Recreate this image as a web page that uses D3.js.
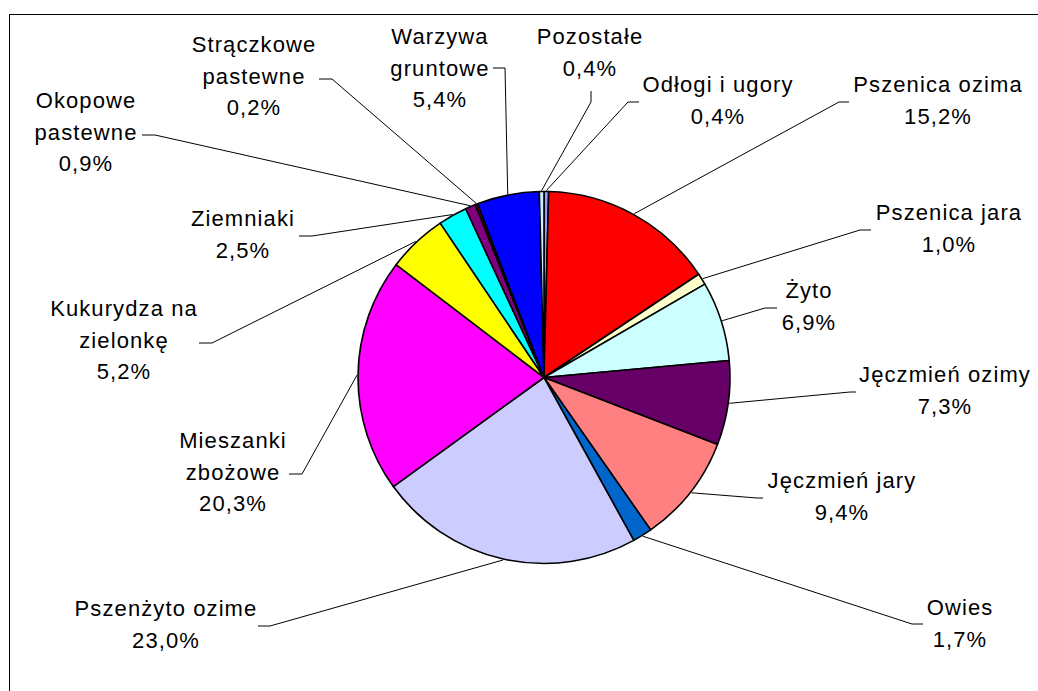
<!DOCTYPE html>
<html>
<head>
<meta charset="utf-8">
<script src="https://cdn.jsdelivr.net/npm/d3@7"></script>
<style>
  body { margin: 0; background: #fff; }
  svg text { font-family: "Liberation Sans", Arial, sans-serif; font-size: 22px; letter-spacing: 1.1px; fill: #000; }
</style>
</head>
<body>
<svg id="drawing_region" width="1038" height="691"></svg>
<script>
// data, clockwise from 12 o'clock
const categories = [
    "Odłogi i ugory", "Pszenica ozima", "Pszenica jara", "Żyto", "Jęczmień ozimy",
    "Jęczmień jary", "Owies", "Pszenżyto ozime", "Mieszanki\nzbożowe", "Kukurydza na\nzielonkę",
    "Ziemniaki", "Okopowe\npastewne", "Strączkowe\npastewne", "Warzywa\ngruntowe", "Pozostałe"
];
const values = [0.4, 15.2, 1.0, 6.9, 7.3, 9.4, 1.7, 23.0, 20.3, 5.2, 2.5, 0.9, 0.2, 5.4, 0.4];
const colors = [
    "#9999ff", "#ff0000", "#ffffcc", "#ccffff", "#660066",
    "#ff8080", "#0066cc", "#ccccff", "#ff00ff", "#ffff00",
    "#00ffff", "#800080", "#800000", "#0000ff", "#cceeff"
];

// label layout: text centre x, first baseline y, leader start and elbow
const labelPos = [
    { x: 718, y: 92,  a: [639, 102], e: [628, 102] },
    { x: 938, y: 92,  a: [849, 102], e: [839, 102] },
    { x: 949, y: 220, a: [871, 230], e: [860, 230] },
    { x: 809, y: 298, a: [777, 308], e: [765, 308] },
    { x: 945, y: 382, a: [856, 392], e: [850, 392] },
    { x: 842, y: 488, a: [763, 498], e: [757, 498] },
    { x: 960, y: 615, a: [923, 624], e: [912, 624] },
    { x: 166, y: 616, a: [258, 626], e: [270, 626] },
    { x: 233, y: 448, a: [289, 474], e: [302, 474] },
    { x: 124, y: 316, a: [199, 343], e: [212, 343] },
    { x: 243, y: 226, a: [299, 236], e: [312, 236] },
    { x: 86,  y: 108, a: [142, 135], e: [155, 135] },
    { x: 254, y: 52,  a: [319, 79],  e: [332, 79] },
    { x: 440, y: 44,  a: [493, 68],  e: [505, 68] },
    { x: 590, y: 44,  a: [591, 91],  e: [591, 102] }
];

const cx = 544, cy = 377.5, radius = 186, lineH = 31.7;
const fmt = v => v.toFixed(1).replace(".", ",") + "%";

const svg = d3.select("#drawing_region");

svg.append("rect")
    .attr("x", 9.5).attr("y", 14.5)
    .attr("width", 1100).attr("height", 800)
    .attr("fill", "#fff")
    .attr("stroke", "#000")
    .attr("stroke-width", 1);

const pie = d3.pie().sort(null).value(d => d)(values);
const arc = d3.arc().innerRadius(0).outerRadius(radius);

const g = svg.append("g").attr("transform", `translate(${cx},${cy})`);

g.selectAll("path")
    .data(pie)
    .enter()
    .append("path")
    .attr("d", arc)
    .attr("fill", (d, i) => colors[i])
    .attr("stroke", "#000")
    .attr("stroke-width", 1.6)
    .attr("stroke-linejoin", "round");

// leader lines
const edge = d => {
    const m = (d.startAngle + d.endAngle) / 2;
    return [cx + (radius + 1) * Math.sin(m), cy - (radius + 1) * Math.cos(m)];
};

svg.selectAll("polyline.leader")
    .data(pie)
    .enter()
    .append("polyline")
    .attr("class", "leader")
    .attr("points", (d, i) => [labelPos[i].a, labelPos[i].e, edge(d)].map(p => p.join(",")).join(" "))
    .attr("fill", "none")
    .attr("stroke", "#000")
    .attr("stroke-width", 1);

// labels
const labels = svg.selectAll("text.lbl")
    .data(pie)
    .enter()
    .append("text")
    .attr("class", "lbl")
    .attr("text-anchor", "middle");

labels.each(function(d, i) {
    const lines = categories[i].split("\n").concat([fmt(values[i])]);
    d3.select(this).selectAll("tspan")
        .data(lines)
        .enter()
        .append("tspan")
        .attr("x", labelPos[i].x)
        .attr("y", (t, j) => labelPos[i].y + j * lineH)
        .text(t => t);
});
</script>
</body>
</html>
